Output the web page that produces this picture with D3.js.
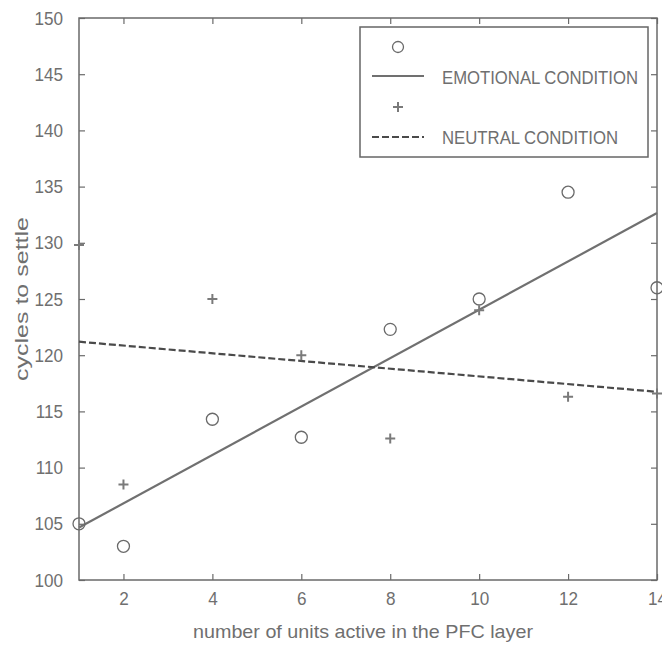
<!DOCTYPE html>
<html>
<head>
<meta charset="utf-8">
<script src="https://cdn.jsdelivr.net/npm/d3@7"></script>
<style>
  body { margin: 0; background: #fff; }
  svg { display: block; }
  text { font-family: "Liberation Sans", Arial, sans-serif; fill: #6f6f6f; }
</style>
</head>
<body>
<svg id="chart" width="662" height="650"></svg>
<script>
// data
var unitsActive = [1, 2, 4, 6, 8, 10, 12, 14];
var emotionalCycles = [105, 103, 114.3, 112.7, 122.3, 125, 134.5, 126];
var neutralCycles = [129.8, 108.5, 125, 120, 112.6, 124, 116.3, 116.6];
var xTicks = [2, 4, 6, 8, 10, 12, 14];
var yTicks = [100, 105, 110, 115, 120, 125, 130, 135, 140, 145, 150];
var legendLabels = ["EMOTIONAL CONDITION", "NEUTRAL CONDITION"];

var svg = d3.select("#chart");

var margin = { top: 18, right: 5, bottom: 70, left: 79 };
var W = 662, H = 650;
var plotW = W - margin.left - margin.right;
var plotH = H - margin.top - margin.bottom;

var x = d3.scaleLinear().domain([1, 14]).range([0, plotW]);
var y = d3.scaleLinear().domain([100, 150]).range([plotH, 0]);

var AXIS = "#6a6a6a";

var g = svg.append("g")
    .attr("transform", "translate(" + margin.left + "," + margin.top + ")");

// least squares fit for each condition
function fit(xs, ys) {
    var mx = d3.mean(xs), my = d3.mean(ys);
    var num = d3.sum(xs, (v, i) => (v - mx) * (ys[i] - my));
    var den = d3.sum(xs, (v) => (v - mx) * (v - mx));
    var b = num / den;
    return (v) => my + b * (v - mx);
}
var fitEmo = fit(unitsActive, emotionalCycles);
var fitNeu = fit(unitsActive, neutralCycles);

// axes, ticks inside like matlab
function styleAxis(sel) {
    sel.select(".domain").remove();
    sel.selectAll(".tick line").attr("stroke", AXIS).attr("stroke-width", 1.2);
    sel.selectAll(".tick text")
        .style("font-size", "19px")
        .attr("fill", "#6f6f6f");
}

g.append("g")
    .attr("transform", "translate(0," + plotH + ")")
    .call(d3.axisBottom(x).tickValues(xTicks).tickSize(-6).tickPadding(12))
    .call(styleAxis);

g.append("g")
    .call(d3.axisTop(x).tickValues(xTicks).tickSize(-6).tickFormat(""))
    .call(styleAxis);

g.append("g")
    .call(d3.axisLeft(y).tickValues(yTicks).tickSize(-6).tickPadding(16))
    .call(styleAxis);

g.append("g")
    .attr("transform", "translate(" + plotW + ",0)")
    .call(d3.axisRight(y).tickValues(yTicks).tickSize(-6).tickFormat(""))
    .call(styleAxis);

// squeeze the tick labels a bit, the original font is narrow
g.selectAll(".tick text").each(function() {
    var t = d3.select(this);
    if (!t.text()) return;
    var len = this.getComputedTextLength();
    t.attr("textLength", len * 0.9).attr("lengthAdjust", "spacingAndGlyphs");
});

g.append("rect")
    .attr("width", plotW).attr("height", plotH)
    .attr("fill", "none").attr("stroke", AXIS).attr("stroke-width", 1.5);

// fitted lines
g.append("line")
    .attr("x1", x(1)).attr("y1", y(fitEmo(1)))
    .attr("x2", x(14)).attr("y2", y(fitEmo(14)))
    .attr("stroke", "#707070").attr("stroke-width", 2.2);

g.append("line")
    .attr("x1", x(1)).attr("y1", y(fitNeu(1)))
    .attr("x2", x(14)).attr("y2", y(fitNeu(14)))
    .attr("stroke", "#4a4a4a").attr("stroke-width", 2.2)
    .attr("stroke-dasharray", "7,3");

// markers
g.selectAll(".emo")
    .data(unitsActive)
    .enter().append("circle")
    .attr("cx", (d) => x(d))
    .attr("cy", (d, i) => y(emotionalCycles[i]))
    .attr("r", 6)
    .attr("fill", "none").attr("stroke", "#6a6a6a").attr("stroke-width", 1.3);

g.selectAll(".neu")
    .data(unitsActive)
    .enter().append("path")
    .attr("transform", (d, i) => "translate(" + x(d) + "," + y(neutralCycles[i]) + ")")
    .attr("d", "M-5,0H5M0,-5V5")
    .attr("stroke", "#7a7a7a").attr("stroke-width", 2);

// axis titles
svg.append("text")
    .attr("x", margin.left + plotW / 2 - 5)
    .attr("y", 638)
    .attr("text-anchor", "middle")
    .style("font-size", "19px")
    .attr("textLength", 340)
    .attr("lengthAdjust", "spacingAndGlyphs")
    .text("number of units active in the PFC layer");

svg.append("text")
    .attr("transform", "translate(28," + (margin.top + plotH / 2) + ") rotate(-90)")
    .attr("text-anchor", "middle")
    .style("font-size", "19px")
    .attr("textLength", 164)
    .attr("lengthAdjust", "spacingAndGlyphs")
    .text("cycles to settle");

// legend
var lg = svg.append("g");
lg.append("rect")
    .attr("x", 360).attr("y", 27).attr("width", 288).attr("height", 130)
    .attr("fill", "#fff").attr("stroke", "#666").attr("stroke-width", 1.5);

lg.append("circle")
    .attr("cx", 398).attr("cy", 47).attr("r", 5.5)
    .attr("fill", "none").attr("stroke", "#6a6a6a").attr("stroke-width", 1.3);
lg.append("line")
    .attr("x1", 372).attr("x2", 424).attr("y1", 76).attr("y2", 76)
    .attr("stroke", "#707070").attr("stroke-width", 2.2);
lg.append("path")
    .attr("transform", "translate(398,107)")
    .attr("d", "M-5,0H5M0,-5V5")
    .attr("stroke", "#7a7a7a").attr("stroke-width", 2);
lg.append("line")
    .attr("x1", 372).attr("x2", 424).attr("y1", 137).attr("y2", 137)
    .attr("stroke", "#4a4a4a").attr("stroke-width", 2.2)
    .attr("stroke-dasharray", "7,3");

lg.selectAll(".lt")
    .data(legendLabels)
    .enter().append("text")
    .attr("x", 442)
    .attr("y", (d, i) => 84 + i * 60)
    .style("font-size", "18px")
    .attr("textLength", (d, i) => i === 0 ? 196 : 176)
    .attr("lengthAdjust", "spacingAndGlyphs")
    .text((d) => d);
</script>
</body>
</html>
